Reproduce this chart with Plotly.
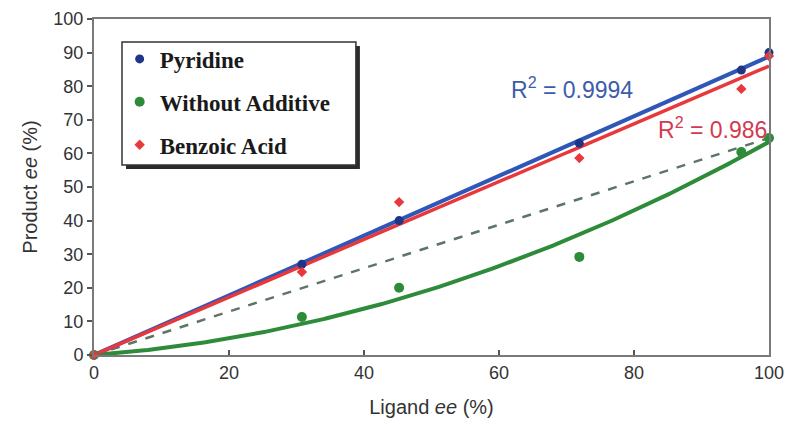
import numpy as np
import plotly.graph_objects as go

# Ligand ee (%) used for every series
ligand_ee = [0, 30.8, 45.2, 71.9, 95.9, 100]

# Product ee (%) for each additive
pyridine = [0, 27.0, 40.0, 63.0, 84.8, 90.0]
without_additive = [0, 11.3, 20.0, 29.2, 60.4, 64.6]
benzoic_acid = [0, 24.7, 45.5, 58.6, 79.2, 89.0]

series_names = ["Pyridine", "Without Additive", "Benzoic Acid"]
r2_labels = ["R<sup>2</sup> = 0.9994", "R<sup>2</sup> = 0.986"]

x_ticks = [0, 20, 40, 60, 80, 100]
y_ticks = [0, 10, 20, 30, 40, 50, 60, 70, 80, 90, 100]

BLUE_LINE, BLUE_MARK = "#2f57b8", "#1f3585"
GREEN = "#2e8b3a"
RED = "#e8383c"
DASH = "#5f7468"
SANS = "Liberation Sans, Arial"

x = np.array(ligand_ee, dtype=float)
xs = np.linspace(0, 100, 201)


def slope_through_origin(y):
    y = np.array(y, dtype=float)
    return float((x * y).sum() / (x * x).sum())


# quadratic fit through the origin for the additive-free runs
A = np.vstack([x, x ** 2]).T
coef, *_ = np.linalg.lstsq(A, np.array(without_additive, dtype=float), rcond=None)
green_fit = coef[0] * xs + coef[1] * xs ** 2

# linear reference joining origin and the 100 % ee point
lin_ref = without_additive[-1] / ligand_ee[-1] * xs

fig = go.Figure()

fig.add_trace(go.Scatter(x=xs, y=lin_ref, mode="lines", showlegend=False,
                         line=dict(color=DASH, width=2.5, dash="dash"), hoverinfo="skip"))
fig.add_trace(go.Scatter(x=xs, y=green_fit, mode="lines", showlegend=False,
                         line=dict(color=GREEN, width=4), hoverinfo="skip"))
fig.add_trace(go.Scatter(x=xs, y=slope_through_origin(pyridine) * xs, mode="lines",
                         showlegend=False, line=dict(color=BLUE_LINE, width=4), hoverinfo="skip"))
fig.add_trace(go.Scatter(x=xs, y=slope_through_origin(benzoic_acid) * xs, mode="lines",
                         showlegend=False, line=dict(color=RED, width=3.5), hoverinfo="skip"))

fig.add_trace(go.Scatter(x=ligand_ee, y=pyridine, mode="markers", name=series_names[0],
                         legendgroup="a", cliponaxis=False,
                         marker=dict(symbol="circle", size=9, color=BLUE_MARK)))
fig.add_trace(go.Scatter(x=ligand_ee, y=without_additive, mode="markers", name=series_names[1],
                         legendgroup="b", cliponaxis=False,
                         marker=dict(symbol="circle", size=10, color=GREEN)))
fig.add_trace(go.Scatter(x=ligand_ee, y=benzoic_acid, mode="markers", name=series_names[2],
                         legendgroup="c", cliponaxis=False,
                         marker=dict(symbol="diamond", size=8, color=RED)))

# legend frame with drop shadow
bx0, bx1, by0, by1 = 0.0415, 0.388, 0.5655, 0.9315
dx, dy = 4 / 675, 4 / 336
fig.add_shape(type="rect", xref="paper", yref="paper", x0=bx0 + dx, x1=bx1 + dx,
              y0=by0 - dy, y1=by1 - dy, fillcolor="#2a2a2a", line=dict(width=0))
fig.add_shape(type="rect", xref="paper", yref="paper", x0=bx0, x1=bx1, y0=by0, y1=by1,
              fillcolor="white", line=dict(color="#333333", width=1.5))

fig.add_annotation(x=70.8, y=79.5, xref="x", yref="y", text=r2_labels[0], showarrow=False,
                   font=dict(family=SANS, size=23, color="#3d5cab"))
fig.add_annotation(x=100, y=67.6, xref="x", yref="y", text=r2_labels[1], showarrow=False,
                   xanchor="right", font=dict(family=SANS, size=23, color="#d33a50"))

axis_common = dict(showline=True, linecolor="#7a7a7a", linewidth=2, mirror=True,
                   showgrid=False, zeroline=False, ticklen=5, tickwidth=1.5, tickcolor="#555555",
                   tickfont=dict(family=SANS, size=18, color="#333333"),
                   range=[0, 100], automargin=False)

fig.update_layout(
    width=787, height=425,
    margin=dict(l=94, r=18, t=19, b=70),
    paper_bgcolor="white", plot_bgcolor="white",
    xaxis=dict(**axis_common, tickvals=x_ticks, ticks="inside",
               title=dict(text="Ligand <i>ee</i> (%)", standoff=18,
                          font=dict(family=SANS, size=20, color="#333333"))),
    yaxis=dict(**axis_common, tickvals=y_ticks, ticks="outside",
               title=dict(text="Product <i>ee</i> (%)", standoff=10,
                          font=dict(family=SANS, size=20, color="#333333"))),
    legend=dict(x=0.038, y=0.945, xanchor="left", yanchor="top",
                bgcolor="rgba(0,0,0,0)", borderwidth=0, tracegroupgap=10,
                font=dict(family="Liberation Serif, Times New Roman", size=23, color="#1a1a1a",
                          weight="bold")),
    showlegend=True,
)

fig.write_html("out.html")
